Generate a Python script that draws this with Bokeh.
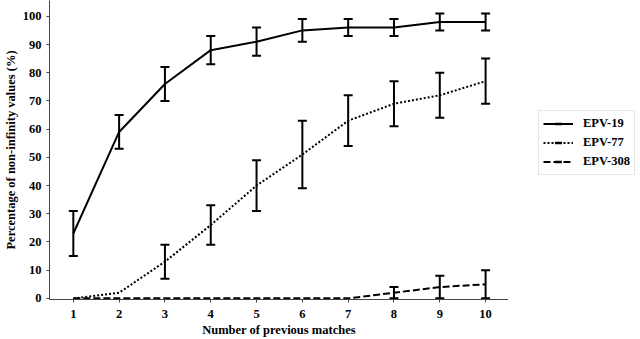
from bokeh.plotting import figure
from bokeh.layouts import row
from bokeh.models import (ColumnDataSource, Whisker, TeeHead, Legend, LegendItem,
                          Range1d, FixedTicker)
from bokeh.embed import file_html
from bokeh.resources import INLINE

matches = [1, 2, 3, 4, 5, 6, 7, 8, 9, 10]

epv19 = [23, 59, 76, 88, 91, 95, 96, 96, 98, 98]
epv19_err = [8, 6, 6, 5, 5, 4, 3, 3, 3, 3]

epv77 = [0, 2, 13, 26, 40, 51, 63, 69, 72, 77]
epv77_err = [0, 0, 6, 7, 9, 12, 9, 8, 8, 8]

epv308 = [0, 0, 0, 0, 0, 0, 0, 2, 4, 5]
epv308_err = [0, 0, 0, 0, 0, 0, 0, 2, 4, 5]

series_names = ["EPV-19", "EPV-77", "EPV-308"]
x_ticks = [1, 2, 3, 4, 5, 6, 7, 8, 9, 10]
y_ticks = [0, 10, 20, 30, 40, 50, 60, 70, 80, 90, 100]

FONT = "Liberation Serif"
H = 339

p = figure(width=508, height=H, output_backend="svg", toolbar_location=None,
           x_range=Range1d(0.48, 10.5), y_range=Range1d(-0.4, 105.6),
           min_border_left=40, min_border_right=0, min_border_top=0,
           min_border_bottom=40)
p.outline_line_color = None
p.xgrid.visible = False
p.ygrid.visible = False

styles = ["solid", "2 2", "7 3"]
data = [(epv19, epv19_err), (epv77, epv77_err), (epv308, epv308_err)]

# legend-only figure on the right
p2 = figure(width=132, height=H, output_backend="svg", toolbar_location=None,
            x_range=Range1d(0, 1), y_range=Range1d(0, 1),
            x_axis_location=None, y_axis_location=None,
            min_border_left=0, min_border_right=0, min_border_top=0,
            min_border_bottom=0)
p2.outline_line_color = None
p2.xgrid.visible = False
p2.ygrid.visible = False

items = []
for name, (vals, errs), dash in zip(series_names, data, styles):
    src = ColumnDataSource(dict(x=matches, y=vals))
    p.line("x", "y", source=src, line_color="black", line_width=2,
           line_dash=dash)
    xs, up, lo = [], [], []
    for xi, v, e in zip(matches, vals, errs):
        if e > 0:
            xs.append(xi)
            up.append(v + e)
            lo.append(max(v - e, 0))
    wsrc = ColumnDataSource(dict(x=xs, upper=up, lower=lo))
    w = Whisker(source=wsrc, base="x", upper="upper", lower="lower",
                dimension="height", line_color="black", line_width=2,
                upper_head=TeeHead(size=9, line_width=2, line_color="black"),
                lower_head=TeeHead(size=9, line_width=2, line_color="black"),
                level="glyph")
    p.add_layout(w)
    # off-view stand-ins, used only for the legend swatches
    ln2 = p2.line([5, 6], [5, 6], line_color="black", line_width=2,
                  line_dash=dash)
    mk2 = p2.scatter([5], [5], marker="dash", angle=1.5708, size=14,
                     line_color="black", line_width=2.5)
    items.append(LegendItem(label=name, renderers=[ln2, mk2]))

legend = Legend(items=items, location=(30, 124))
legend.label_text_font = FONT
legend.label_text_font_style = "bold"
legend.label_text_font_size = "12.5px"
legend.label_text_color = "black"
legend.glyph_width = 30
legend.glyph_height = 17
legend.spacing = 2
legend.padding = 4
legend.margin = 0
legend.label_standoff = 10
legend.border_line_color = "#cccccc"
legend.border_line_width = 1
legend.background_fill_color = "white"
p2.add_layout(legend)

for ax in (p.xaxis[0], p.yaxis[0]):
    ax.axis_line_color = "#444444"
    ax.axis_line_width = 1
    ax.major_tick_line_color = "#444444"
    ax.major_tick_out = 3
    ax.major_tick_in = 0
    ax.minor_tick_out = 0
    ax.minor_tick_in = 0
    ax.major_label_text_font = FONT
    ax.major_label_text_font_style = "bold"
    ax.major_label_text_font_size = "12.5px"
    ax.major_label_text_color = "black"
    ax.axis_label_text_font = FONT
    ax.axis_label_text_font_style = "bold"
    ax.axis_label_text_font_size = "12.5px"
    ax.axis_label_text_color = "black"

p.xaxis.ticker = FixedTicker(ticks=x_ticks)
p.yaxis.ticker = FixedTicker(ticks=y_ticks)
p.xaxis.axis_label = "Number of previous matches"
p.yaxis.axis_label = "Percentage of non-infinity values (%)"
p.xaxis.major_label_standoff = 7
p.xaxis.axis_label_standoff = 2
p.yaxis.major_label_standoff = 5
p.yaxis.axis_label_standoff = 2

layout = row(p, p2)
open("out.html", "w").write(file_html(layout, INLINE))
